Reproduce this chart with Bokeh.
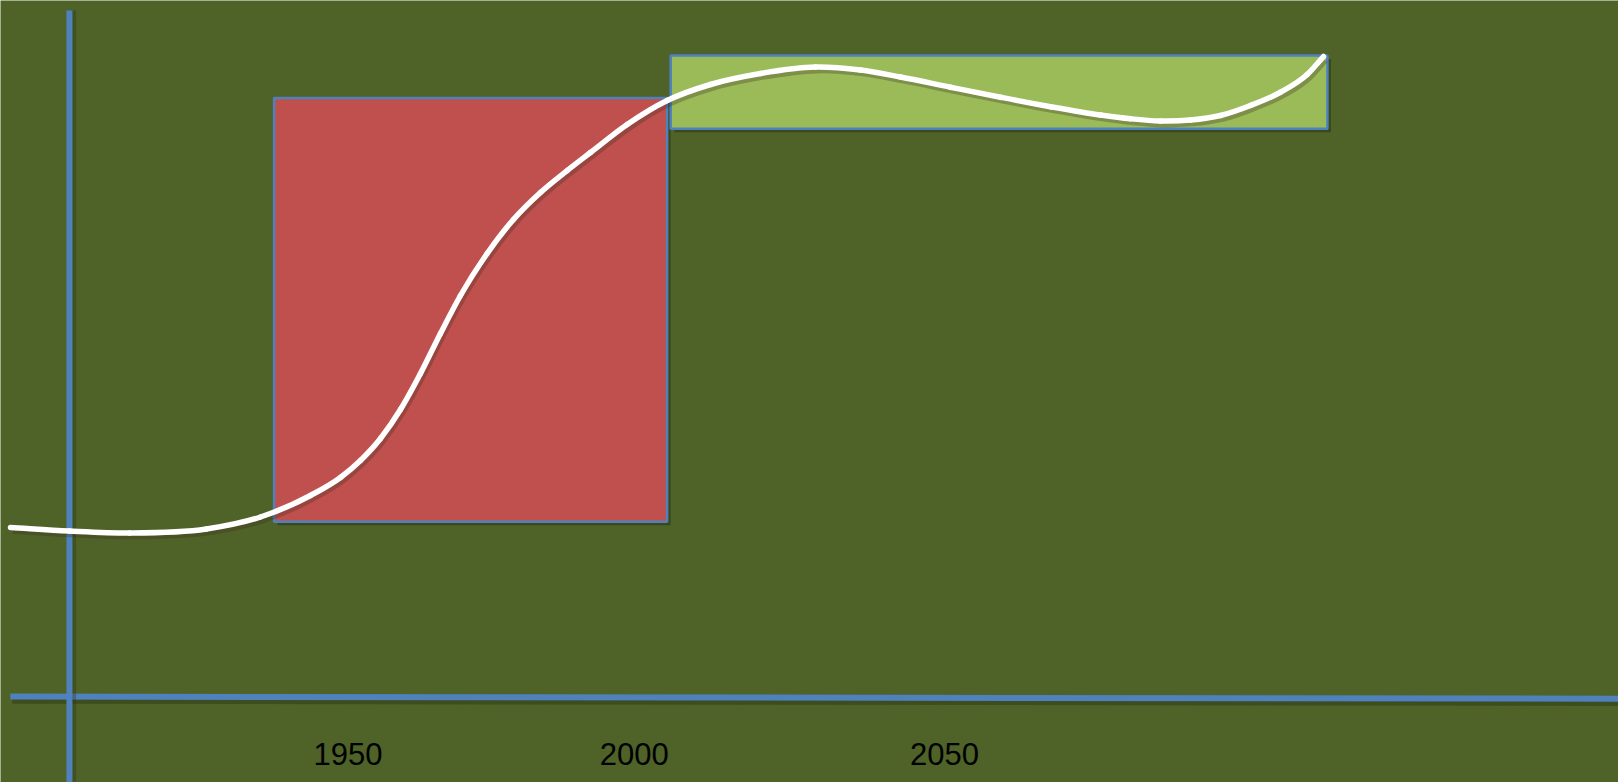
from bokeh.plotting import figure
from bokeh.models import Range1d, ColumnDataSource
from bokeh.core.properties import value
from bokeh.embed import file_html
from bokeh.resources import INLINE

# ---- data (x in years, y in arbitrary index units) ----
curve_year = [1893.42, 1903.31, 1913.37, 1926.27, 1935.33, 1943.71, 1948.74, 1952.09,
              1955.45, 1958.80, 1962.15, 1965.50, 1968.86, 1973.33, 1977.74, 1982.27,
              1986.74, 1990.65, 1996.80, 2003.51, 2010.77, 2019.15, 2028.37, 2035.92,
              2042.62, 2051.00, 2059.39, 2067.77, 2076.15, 2081.18, 2086.21, 2091.24,
              2096.27, 2101.30, 2106.33, 2110.80, 2113.54]
curve_value = [28.33, 27.75, 27.42, 28.08, 30.08, 33.67, 36.67, 39.50,
               43.17, 48.00, 54.00, 60.67, 67.00, 74.00, 79.67, 84.17,
               87.83, 90.83, 95.50, 99.50, 102.17, 104.00, 105.08, 104.58,
               103.42, 101.72, 100.05, 98.47, 97.08, 96.45, 96.08, 96.25,
               97.00, 98.67, 100.88, 103.83, 106.83]

phase_names = ["red", "green"]
phase_start = [1937.6, 2004.1]
phase_end = [2003.5, 2114.2]
phase_low = [29.3, 94.8]
phase_high = [99.9, 107.0]
phase_colors = ["#C0504D", "#9BBB59"]

tick_labels = ["1950", "2000", "2050"]
tick_years = [1950, 1998, 2050]
tick_level = -9.5

x_axis_year = 1903.3
y_axis_start_year = 1893.4
y_axis_top = 114.5

X0, X1 = 1891.74, 2163.0
Y0, Y1 = -14.17, 116.17

BG = "#4F6228"
BLUE = "#4F81BD"


def smooth_segments(xs, ys):
    """Cubic Hermite (three-point slopes) through the points -> bezier segments."""
    n = len(xs)
    h = [xs[i + 1] - xs[i] for i in range(n - 1)]
    d = [(ys[i + 1] - ys[i]) / h[i] for i in range(n - 1)]
    m = [d[0]]
    for i in range(1, n - 1):
        m.append((d[i - 1] * h[i] + d[i] * h[i - 1]) / (h[i - 1] + h[i]))
    m.append(d[-1])
    out = dict(x0=[], y0=[], x1=[], y1=[], cx0=[], cy0=[], cx1=[], cy1=[])
    for i in range(n - 1):
        out["x0"].append(xs[i]); out["y0"].append(ys[i])
        out["x1"].append(xs[i + 1]); out["y1"].append(ys[i + 1])
        out["cx0"].append(xs[i] + h[i] / 3); out["cy0"].append(ys[i] + m[i] * h[i] / 3)
        out["cx1"].append(xs[i + 1] - h[i] / 3); out["cy1"].append(ys[i + 1] - m[i + 1] * h[i] / 3)
    return out


p = figure(width=1618, height=782, output_backend="svg", toolbar_location=None,
           x_range=Range1d(X0, X1), y_range=Range1d(Y0, Y1),
           min_border=0, min_border_left=0, min_border_right=0,
           min_border_top=0, min_border_bottom=0,
           background_fill_color=BG, border_fill_color=BG, outline_line_color=None)
p.axis.visible = False
p.grid.visible = False

# shadows of rectangles
dx, dy = 0.6, -0.6
p.quad(left=[s + dx for s in phase_start], right=[e + dx for e in phase_end],
       bottom=[b + dy for b in phase_low], top=[t + dy for t in phase_high],
       fill_color="#2a3512", fill_alpha=0.55, line_color=None)

src = ColumnDataSource(dict(left=phase_start, right=phase_end, bottom=phase_low,
                            top=phase_high, color=phase_colors))
p.quad(left="left", right="right", bottom="bottom", top="top", fill_color="color",
       line_color=BLUE, line_width=2.5, source=src)

# axis lines (with soft shadows)
p.line([y_axis_start_year + 0.3, X1], [0.15 - 0.7, -0.2 - 0.7], line_color="#2a3512",
       line_width=6, line_alpha=0.45)
p.line([y_axis_start_year, X1], [0.15, -0.2], line_color=BLUE, line_width=6)
p.line([x_axis_year + 0.6, x_axis_year + 0.6], [y_axis_top, Y0], line_color="#2a3512",
       line_width=6, line_alpha=0.35)
p.line([x_axis_year, x_axis_year], [y_axis_top, Y0], line_color=BLUE, line_width=6)

# smooth curve with shadow
seg = smooth_segments(curve_year, curve_value)
shadow = dict(seg)
for k in ("x0", "x1", "cx0", "cx1"):
    shadow[k] = [v + 0.35 for v in seg[k]]
for k in ("y0", "y1", "cy0", "cy1"):
    shadow[k] = [v - 0.6 for v in seg[k]]
p.bezier(source=ColumnDataSource(shadow), x0="x0", y0="y0", x1="x1", y1="y1",
         cx0="cx0", cy0="cy0", cx1="cx1", cy1="cy1",
         line_color="#3a2a20", line_width=5.5, line_alpha=0.3)
p.bezier(source=ColumnDataSource(seg), x0="x0", y0="y0", x1="x1", y1="y1",
         cx0="cx0", cy0="cy0", cx1="cx1", cy1="cy1",
         line_color="white", line_width=5.5, line_cap="round")

p.text(x=tick_years, y=[tick_level] * len(tick_years), text=tick_labels,
       text_align="center", text_baseline="middle", text_color="black",
       text_font=value("Liberation Sans"), text_font_size="31px")

html = file_html(p, INLINE)
html = html.replace("<body>", '<body style="margin:0;padding:0;background:%s;overflow:hidden">' % BG, 1)
open("out.html", "w").write(html)
